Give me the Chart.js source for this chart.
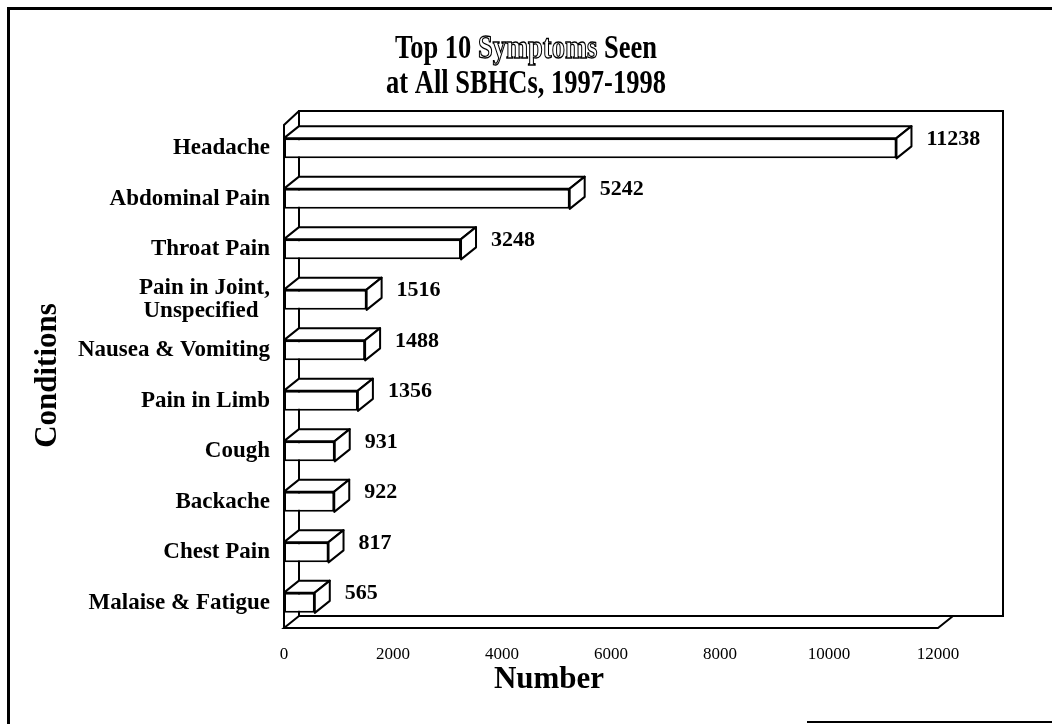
<!DOCTYPE html>
<html>
<head>
<meta charset="utf-8">
<title>Top 10 Symptoms Seen at All SBHCs, 1997-1998</title>
<script src="https://cdn.jsdelivr.net/npm/chart.js@4.4.1/dist/chart.umd.min.js"></script>
<style>
    html, body { margin: 0; padding: 0; background: #fff; }
    #wrap { width: 1052px; height: 724px; position: relative; }
</style>
</head>
<body>
<div id="wrap"><canvas id="barChart"></canvas></div>
<script>
const conditions = [
    'Headache',
    'Abdominal Pain',
    'Throat Pain',
    ['Pain in Joint,', 'Unspecified  '],
    'Nausea & Vomiting',
    'Pain in Limb',
    'Cough',
    'Backache',
    'Chest Pain',
    'Malaise & Fatigue'
];
const counts = [11238, 5242, 3248, 1516, 1488, 1356, 931, 922, 817, 565];
const xMax = 12000;
const xStep = 2000;

const titleLines = [
    [{ text: 'Top 10 ' }, { text: 'Symptoms', hollow: true }, { text: ' Seen' }],
    [{ text: 'at All SBHCs, 1997-1998' }]
];
const xTitle = 'Number';
const yTitle = 'Conditions';

const SERIF = '"Liberation Serif", "Times New Roman", serif';
const DX = 15;   // depth of the 3d look, to the right
const DY = 12;   // depth of the 3d look, upwards

// walls and floor of the box, behind the bars
const box3d = {
    id: 'box3d',
    beforeDatasetsDraw: (chart) => {
        const { ctx, chartArea: a } = chart;
        ctx.save();
        ctx.strokeStyle = '#000';
        ctx.lineWidth = 2;
        // back wall (runs on past the end of the scale, like the original)
        ctx.strokeRect(a.left + DX, a.top - DY, a.right + 65 - (a.left + DX), a.bottom - a.top);
        // left wall
        ctx.beginPath();
        ctx.moveTo(a.left, a.bottom);
        ctx.lineTo(a.left, a.top + 2);
        ctx.lineTo(a.left + DX, a.top - DY);
        ctx.stroke();
        // floor
        ctx.beginPath();
        ctx.moveTo(a.left + DX, a.bottom - DY);
        ctx.lineTo(a.left, a.bottom);
        ctx.lineTo(a.right, a.bottom);
        ctx.lineTo(a.right + DX, a.bottom - DY);
        ctx.stroke();
        ctx.restore();
    }
};

// top and side faces of every bar, plus the value next to it
const bars3d = {
    id: 'bars3d',
    afterDatasetsDraw: (chart) => {
        const { ctx } = chart;
        const meta = chart.getDatasetMeta(0);
        ctx.save();
        ctx.strokeStyle = '#000';
        ctx.fillStyle = '#fff';
        ctx.lineWidth = 2;
        ctx.lineJoin = 'round';
        meta.data.forEach((bar) => {
            const { x, y, base, height } = bar.getProps(['x', 'y', 'base', 'height'], true);
            const top = y - height / 2;
            const bottom = y + height / 2;
            // top face
            ctx.beginPath();
            ctx.moveTo(base, top);
            ctx.lineTo(base + DX, top - DY);
            ctx.lineTo(x + DX, top - DY);
            ctx.lineTo(x, top);
            ctx.closePath();
            ctx.fill();
            ctx.stroke();
            // side face
            ctx.beginPath();
            ctx.moveTo(x, top);
            ctx.lineTo(x + DX, top - DY);
            ctx.lineTo(x + DX, bottom - DY);
            ctx.lineTo(x, bottom);
            ctx.closePath();
            ctx.fill();
            ctx.stroke();
        });
        ctx.fillStyle = '#000';
        ctx.font = 'bold 22px ' + SERIF;
        ctx.textAlign = 'left';
        ctx.textBaseline = 'middle';
        meta.data.forEach((bar, i) => {
            ctx.fillText(String(counts[i]), bar.x + DX + 15, bar.y - 9);
        });
        ctx.restore();
    }
};

// title (with the hollow word), x axis title and the page frame
const decor = {
    id: 'decor',
    afterDraw: (chart) => {
        const { ctx, chartArea: a } = chart;
        const cx = chart.width / 2;
        ctx.save();
        ctx.font = 'bold 34px ' + SERIF;
        ctx.textBaseline = 'alphabetic';
        ctx.textAlign = 'left';
        ctx.strokeStyle = '#000';
        [58, 93].forEach((baseY, li) => {
            const parts = titleLines[li];
            const total = parts.reduce((w, p) => w + ctx.measureText(p.text).width, 0);
            ctx.save();
            ctx.translate(cx, baseY);
            ctx.scale(0.78, 1);
            let px = -total / 2;
            parts.forEach((p) => {
                if (p.hollow) {
                    ctx.fillStyle = '#fff';
                    ctx.fillText(p.text, px, 0);
                    ctx.lineWidth = 1.3;
                    ctx.strokeText(p.text, px, 0);
                } else {
                    ctx.fillStyle = '#000';
                    ctx.fillText(p.text, px, 0);
                }
                px += ctx.measureText(p.text).width;
            });
            ctx.restore();
        });

        // x axis title, sits left of the scale centre in the original
        ctx.fillStyle = '#000';
        ctx.font = 'bold 31px ' + SERIF;
        ctx.textAlign = 'center';
        ctx.fillText(xTitle, (a.left + a.right) / 2 - 62, 688);

        // frame of the page
        ctx.lineWidth = 3;
        ctx.beginPath();
        ctx.moveTo(8.5, 724);
        ctx.lineTo(8.5, 8.5);
        ctx.lineTo(1052, 8.5);
        ctx.stroke();
        ctx.lineWidth = 2;
        ctx.beginPath();
        ctx.moveTo(807, 722);
        ctx.lineTo(1052, 722);
        ctx.stroke();
        ctx.restore();
    }
};

const barChart = document.getElementById('barChart').getContext('2d');
new Chart(barChart, {
    type: 'bar',
    data: {
        labels: conditions,
        datasets: [{
            label: 'Number',
            data: counts,
            backgroundColor: '#fff',
            borderColor: '#000',
            borderWidth: 2,
            borderSkipped: false,
            barPercentage: 0.4,
            categoryPercentage: 1
        }]
    },
    plugins: [box3d, bars3d, decor],
    options: {
        indexAxis: 'y',
        responsive: true,
        maintainAspectRatio: false,
        animation: false,
        layout: {
            padding: { top: 123, left: 8, right: 114, bottom: 0 }
        },
        plugins: {
            legend: { display: false },
            tooltip: { enabled: false }
        },
        scales: {
            x: {
                min: 0,
                max: xMax,
                grid: { display: false },
                border: { display: false },
                ticks: {
                    stepSize: xStep,
                    padding: 8,
                    color: '#000',
                    font: { family: SERIF, size: 17 },
                    callback: (v) => String(v)
                },
                afterFit: (scale) => { scale.height = 96; }
            },
            y: {
                grid: { display: false },
                border: { display: false },
                ticks: {
                    padding: 6,
                    color: '#000',
                    font: { family: SERIF, size: 23, weight: 'bold', lineHeight: 1.0 }
                },
                title: {
                    display: true,
                    text: yTitle,
                    color: '#000',
                    padding: { top: 21, bottom: 0 },
                    font: { family: SERIF, size: 31, weight: 'bold' }
                },
                afterFit: (scale) => { scale.width = 276; }
            }
        }
    }
});
</script>
</body>
</html>
